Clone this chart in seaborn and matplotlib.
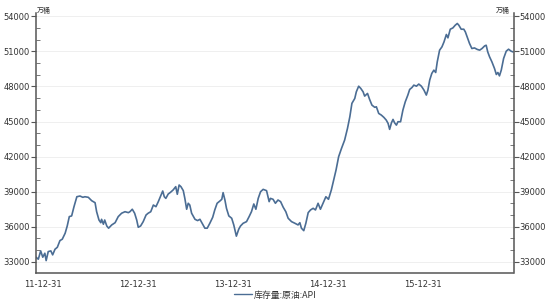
import numpy as np
import pandas as pd
import matplotlib
matplotlib.use("Agg")
import matplotlib.pyplot as plt
import matplotlib.dates as mdates
from matplotlib.ticker import MultipleLocator, FixedLocator
from matplotlib.lines import Line2D
import seaborn as sns

# days after 2011-12-31
days = [-26, -17, -8, 0, 8, 13, 21, 31, 38, 47, 56, 66, 75, 86, 94, 102, 111, 120,
        131, 143, 154, 162, 175, 188, 201, 207, 216, 223, 226, 233, 238, 246, 253,
        265, 278, 290, 303, 316, 329, 335, 344, 353, 361, 367, 376, 386, 397, 405,
        415, 425, 435, 444, 453, 461, 467, 473, 482, 491, 501, 511, 517, 524, 531,
        540, 546, 553, 559, 565, 572, 585, 595, 604, 614, 623, 632, 642, 653, 661,
        670, 681, 688, 693, 700, 706, 715, 726, 734, 744, 753, 760, 770, 783, 793,
        802, 811, 819, 828, 837, 847, 860, 870, 875, 885, 894, 904, 914, 924, 934,
        943, 956, 969, 981, 988, 994, 1003, 1011, 1020, 1029, 1039, 1048, 1058,
        1067, 1077, 1088, 1098, 1109, 1118, 1127, 1137, 1148, 1160, 1171, 1180,
        1188, 1199, 1205, 1214, 1222, 1231, 1237, 1248, 1256, 1265, 1276, 1282,
        1291, 1301, 1311, 1320, 1327, 1333, 1340, 1346, 1352, 1359, 1365, 1375,
        1384, 1393, 1403, 1410, 1419, 1426, 1436, 1445, 1455, 1465, 1474, 1480,
        1487, 1495, 1503, 1510, 1516, 1525, 1534, 1542, 1551, 1557, 1566, 1576,
        1585, 1593, 1599, 1608, 1618, 1624, 1631, 1640, 1649, 1659, 1670, 1679,
        1688, 1698, 1704, 1710, 1717, 1726, 1736, 1743, 1749, 1755, 1762, 1771,
        1781, 1790, 1800, 1807]

stock = [33400, 33230, 33940, 33400, 33740, 33110, 33880, 33940, 33600, 34080,
         34250, 34820, 34940, 35450, 36070, 36870, 36930, 37720, 38570, 38630,
         38520, 38570, 38520, 38230, 38060, 37290, 36580, 36350, 36640, 36220,
         36580, 36070, 35880, 36160, 36350, 36870, 37160, 37290, 37210, 37290,
         37500, 37160, 36580, 35960, 36070, 36440, 37010, 37160, 37290, 37860,
         37720, 38150, 38630, 39060, 38570, 38430, 38800, 38950, 39150, 39430,
         38780, 39570, 39430, 39090, 38430, 37500, 38010, 37860, 37160, 36640,
         36530, 36640, 36240, 35880, 35880, 36300, 36810, 37440, 38010, 38210,
         38350, 38920, 38290, 37580, 36930, 36730, 36160, 35200, 35790, 36070,
         36300, 36440, 36870, 37290, 37950, 37500, 38430, 39000, 39200, 39090,
         38150, 38430, 38350, 38010, 38290, 38150, 37670, 37290, 36730, 36440,
         36300, 36160, 36350, 35880, 35670, 36300, 37210, 37440, 37580, 37440,
         38010, 37500, 38010, 38570, 38350, 39150, 40000, 40850, 41990, 42700,
         43410, 44410, 45400, 46550, 46970, 47540, 48020, 47830, 47540, 47170,
         47400, 46890, 46400, 46210, 46260, 45690, 45550, 45350, 45120, 44840,
         44330, 44890, 45180, 44890, 44690, 44980, 44980, 45980, 46680, 47260,
         47740, 47910, 48110, 48020, 48200, 48020, 47680, 47260, 47680, 48540,
         49110, 49390, 49190, 50100, 51100, 51380, 51810, 52440, 52150, 52890,
         53000, 53230, 53380, 53230, 52890, 52890, 52660, 52230, 51670, 51240,
         51290, 51160, 51100, 51240, 51460, 51520, 50950, 50530, 50100, 49530,
         49020, 49190, 48900, 49390, 50390, 51010, 51180, 51010, 50950]

series_name = "库存量:原油:API"
unit = "万桶"
y_ticks = [33000, 36000, 39000, 42000, 45000, 48000, 51000, 54000]
x_label_dates = ["2011-12-31", "2012-12-31", "2013-12-31", "2014-12-31", "2015-12-31"]

sns.set_style("white")
plt.rcParams["font.family"] = ["DejaVu Sans", "Noto Sans CJK SC"]

base = pd.Timestamp("2011-12-31")
df = pd.DataFrame({"date": base + pd.to_timedelta(days, unit="D"),
                   "value": stock})

fig = plt.figure(figsize=(5.5, 3.0), dpi=100)
ax = fig.add_axes([36 / 550, 1 - 273 / 300, (513.5 - 36) / 550, (273 - 13.3) / 300])

line_color = "#4b6d94"
sns.lineplot(data=df, x="date", y="value", ax=ax, color=line_color,
             linewidth=1.2, legend=False)

ax.set_xlim(df["date"].iloc[0], df["date"].iloc[-1] + pd.Timedelta(days=2))
ax.set_ylim(32050, 54250)
ax.set_xlabel("")
ax.set_ylabel("")

# y ticks
ax.yaxis.set_major_locator(FixedLocator(y_ticks))
ax.yaxis.set_minor_locator(MultipleLocator(1000))
ax.yaxis.set_ticks_position("both")
ax.tick_params(axis="y", which="major", direction="out", length=3.5, width=0.8,
               labelsize=6, pad=0.8, labelright=True, labelleft=True,
               colors="#555555", labelcolor="#333333")
ax.tick_params(axis="y", which="minor", direction="in", length=3, width=0.7,
               colors="#777777")

# x ticks
major_dates = pd.to_datetime(x_label_dates)
ax.xaxis.set_major_locator(FixedLocator(mdates.date2num(major_dates)))
minor_dates = pd.date_range("2011-12-31", "2016-12-31", freq="QE")
ax.xaxis.set_minor_locator(FixedLocator(mdates.date2num(minor_dates)))
ax.xaxis.set_major_formatter(mdates.DateFormatter("%y-%m-%d"))
ax.tick_params(axis="x", which="major", direction="out", length=3.5, width=0.8,
               labelsize=6, pad=1.5, colors="#555555", labelcolor="#333333")
ax.tick_params(axis="x", which="minor", direction="out", length=2.5, width=0.7,
               colors="#777777")

# grid
ax.grid(axis="y", which="major", color="#ececec", linewidth=0.6)
ax.grid(axis="x", visible=False)

for side in ["left", "right", "bottom"]:
    ax.spines[side].set_visible(True)
    ax.spines[side].set_color("#555555")
    ax.spines[side].set_linewidth(1.1)
ax.spines["top"].set_visible(False)

# unit labels
fig.text(37 / 550, 1 - 11.5 / 300, unit, fontsize=5, color="#333333",
         family=["Noto Sans CJK SC", "DejaVu Sans"], ha="left", va="center")
fig.text(510 / 550, 1 - 10.5 / 300, unit, fontsize=5, color="#333333",
         family=["Noto Sans CJK SC", "DejaVu Sans"], ha="right", va="center")

# legend
handle = Line2D([], [], color=line_color, linewidth=1.0)
leg = fig.legend([handle], [series_name], loc="center", bbox_to_anchor=(0.5, 1 - 295 / 300),
                 frameon=False, handlelength=2.0, handletextpad=0.2,
                 prop={"family": ["Noto Sans CJK SC", "DejaVu Sans"], "size": 6.4})
for t in leg.get_texts():
    t.set_color("#333333")

fig.savefig("out.png", dpi=100)
